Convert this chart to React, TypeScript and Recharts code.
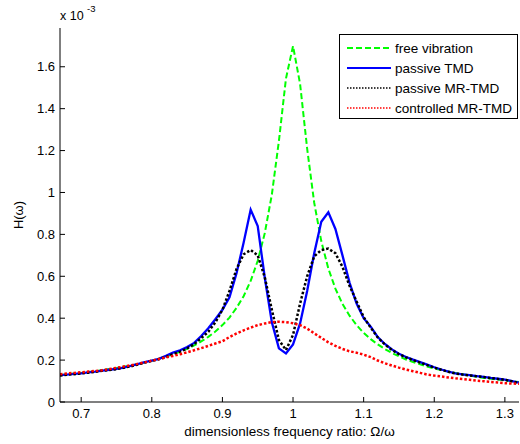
import React from "react";
import { Label, Legend, Line, LineChart, XAxis, YAxis } from "recharts";

// frequency ratio grid (x axis)
const freq = [
  0.67, 0.68, 0.69, 0.7, 0.71, 0.72, 0.73, 0.74, 0.75, 0.76, 0.77, 0.78, 0.79, 0.8, 0.81, 0.82, 0.83, 0.84,
  0.85, 0.86, 0.87, 0.88, 0.89, 0.9, 0.91, 0.92, 0.93, 0.94, 0.95, 0.96, 0.97, 0.98, 0.99, 1.0,
  1.01, 1.02, 1.03, 1.04, 1.05, 1.06, 1.07, 1.08, 1.09, 1.1, 1.11, 1.12, 1.13, 1.14, 1.15, 1.16,
  1.17, 1.18, 1.19, 1.2, 1.21, 1.22, 1.23, 1.24, 1.25, 1.26, 1.27, 1.28, 1.29, 1.3, 1.31, 1.32,
];

// H(w) in units of 1e-3
const freeVibration = [
  0.129, 0.132, 0.136, 0.139, 0.143, 0.147, 0.152, 0.157, 0.162, 0.168, 0.174, 0.181, 0.189, 0.197, 0.207, 0.217, 0.228, 0.24,
  0.254, 0.27, 0.289, 0.311, 0.336, 0.367, 0.403, 0.449, 0.505, 0.578, 0.674, 0.806, 0.99, 1.246, 1.544, 1.699,
  1.518, 1.209, 0.951, 0.768, 0.637, 0.541, 0.468, 0.412, 0.367, 0.33, 0.3, 0.275, 0.253, 0.234, 0.218, 0.203,
  0.191, 0.18, 0.169, 0.16, 0.152, 0.145, 0.138, 0.132, 0.126, 0.12, 0.115, 0.111, 0.107, 0.103, 0.099, 0.095,
];

const passiveTmd = [
  0.128, 0.131, 0.134, 0.137, 0.141, 0.145, 0.15, 0.154, 0.158, 0.164, 0.172, 0.181, 0.19, 0.198, 0.206, 0.22, 0.236, 0.247,
  0.262, 0.282, 0.315, 0.352, 0.395, 0.44, 0.5, 0.615, 0.76, 0.918, 0.84, 0.593, 0.38, 0.256, 0.232, 0.275,
  0.375, 0.53, 0.71, 0.86, 0.905, 0.826, 0.7, 0.57, 0.47, 0.4, 0.36, 0.31, 0.277, 0.251, 0.23, 0.215,
  0.202, 0.19, 0.178, 0.166, 0.155, 0.145, 0.137, 0.132, 0.128, 0.124, 0.12, 0.115, 0.111, 0.107, 0.1, 0.092,
];

const passiveMrTmd = [
  0.127, 0.13, 0.133, 0.136, 0.14, 0.144, 0.149, 0.153, 0.157, 0.163, 0.17, 0.179, 0.188, 0.196, 0.204, 0.215, 0.228, 0.24,
  0.256, 0.276, 0.305, 0.335, 0.38, 0.44, 0.53, 0.635, 0.705, 0.725, 0.7, 0.595, 0.44, 0.296, 0.248, 0.32,
  0.47, 0.6, 0.695, 0.725, 0.732, 0.71, 0.645, 0.555, 0.48, 0.405, 0.355, 0.308, 0.275, 0.249, 0.228, 0.213,
  0.2, 0.188, 0.176, 0.164, 0.154, 0.144, 0.136, 0.131, 0.127, 0.123, 0.119, 0.114, 0.11, 0.106, 0.099, 0.091,
];

const controlledMrTmd = [
  0.133, 0.136, 0.139, 0.142, 0.145, 0.148, 0.152, 0.157, 0.163, 0.169, 0.175, 0.182, 0.189, 0.197, 0.205, 0.213, 0.22, 0.228,
  0.237, 0.247, 0.257, 0.268, 0.279, 0.29, 0.31, 0.327, 0.342, 0.355, 0.367, 0.375, 0.381, 0.383, 0.381, 0.376,
  0.367, 0.35, 0.328, 0.306, 0.285, 0.268, 0.253, 0.242, 0.235, 0.226, 0.214, 0.198, 0.185, 0.174, 0.164, 0.155,
  0.147, 0.139, 0.131, 0.126, 0.122, 0.117, 0.113, 0.11, 0.106, 0.102, 0.099, 0.096, 0.093, 0.09, 0.088, 0.087,
];

const xTicks = [0.7, 0.8, 0.9, 1, 1.1, 1.2, 1.3];
const yTicks = [0, 0.2, 0.4, 0.6, 0.8, 1, 1.2, 1.4, 1.6];

const series = [
  { key: "free", name: "free vibration", color: "#00ff00", dash: "6 3", legendDash: "6 3", width: 2, legendWidth: 2 },
  { key: "ptmd", name: "passive TMD", color: "#0000ff", dash: undefined, legendDash: undefined, width: 2.3, legendWidth: 2 },
  { key: "pmr", name: "passive MR-TMD", color: "#000000", dash: "2.5 2", legendDash: "1.5 1.5", width: 2.5, legendWidth: 1.5 },
  { key: "cmr", name: "controlled MR-TMD", color: "#ff0000", dash: "2.5 2", legendDash: "1.5 1.5", width: 2.5, legendWidth: 1.5 },
];

const data = freq.map((f, i) => ({
  f,
  free: freeVibration[i],
  ptmd: passiveTmd[i],
  pmr: passiveMrTmd[i],
  cmr: controlledMrTmd[i],
}));

const FONT = '"Liberation Sans", Arial, Helvetica, sans-serif';
const fmt = (v: number) => String(Number(v.toFixed(1)));

function BottomTick(props: any) {
  const { x, y, payload } = props;
  return (
    <g>
      <line x1={x} x2={x} y1={y} y2={y - 5} stroke="#000" />
      <text x={x} y={y + 16} textAnchor="middle" fontSize={13} fill="#000" fontFamily={FONT}>
        {fmt(payload.value)}
      </text>
    </g>
  );
}

function TopTick(props: any) {
  const { x, y } = props;
  return <line x1={x} x2={x} y1={y} y2={y + 5} stroke="#000" />;
}

function LeftTick(props: any) {
  const { x, y, payload } = props;
  return (
    <g>
      <line x1={x} x2={x + 5} y1={y} y2={y} stroke="#000" />
      <text x={x - 5} y={y + 4.5} textAnchor="end" fontSize={13} fill="#000" fontFamily={FONT}>
        {fmt(payload.value)}
      </text>
    </g>
  );
}

function RightTick(props: any) {
  const { x, y } = props;
  return <line x1={x} x2={x - 5} y1={y} y2={y} stroke="#000" />;
}

function YLabel(props: any) {
  const vb = props.viewBox;
  const cy = vb.y + vb.height / 2;
  return (
    <g fontFamily={FONT} fill="#000">
      <text x={23} y={cy} transform={`rotate(-90, 23, ${cy})`} textAnchor="middle" fontSize={13}>
        H(ω)
      </text>
      <text x={vb.x + vb.width} y={vb.y - 8} fontSize={12.5}>
        x 10
      </text>
      <text x={vb.x + vb.width + 27} y={vb.y - 16} fontSize={9.5}>
        -3
      </text>
    </g>
  );
}

function LegendBox() {
  return (
    <div
      style={{
        border: "1px solid #000",
        background: "#fff",
        width: 179,
        height: 85,
        boxSizing: "border-box",
        fontFamily: FONT,
        fontSize: 13.5,
        color: "#000",
        paddingTop: 3,
      }}
    >
      {series.map((s) => (
        <div key={s.key} style={{ display: "flex", alignItems: "center", height: 20 }}>
          <svg width={55} height={20} style={{ display: "block" }}>
            <line
              x1={7}
              x2={51}
              y1={10}
              y2={10}
              stroke={s.color}
              strokeWidth={s.legendWidth}
              strokeDasharray={s.legendDash}
            />
          </svg>
          <span>{s.name}</span>
        </div>
      ))}
    </div>
  );
}

export default function App() {
  return (
    <div style={{ position: "absolute", left: 0, top: 0, width: 520, height: 444, background: "#fff" }}>
      <LineChart width={520} height={444} data={data} margin={{ top: 28, right: 1, bottom: 0, left: 0 }}>
        <XAxis
          dataKey="f"
          type="number"
          domain={[0.67, 1.32]}
          ticks={xTicks}
          allowDataOverflow
          height={42}
          tickSize={0}
          tickMargin={0}
          tickLine={false}
          axisLine={{ stroke: "#000" }}
          tick={<BottomTick />}
          interval={0}
        >
          <Label
            value="dimensionless frequency ratio: Ω/ω"
            position="insideBottom"
            offset={8}
            fontSize={13.5}
            fill="#000"
            fontFamily={FONT}
          />
        </XAxis>
        <XAxis
          xAxisId="top"
          dataKey="f"
          type="number"
          orientation="top"
          domain={[0.67, 1.32]}
          ticks={xTicks}
          allowDataOverflow
          height={0}
          tickSize={0}
          tickMargin={0}
          tickLine={false}
          axisLine={{ stroke: "#000" }}
          tick={<TopTick />}
          interval={0}
        >
          <Label
            value="Dynamic Response of SDOF system"
            position="top"
            offset={11}
            fontSize={13.5}
            fill="#000"
            fontFamily={FONT}
          />
        </XAxis>
        <YAxis
          type="number"
          domain={[0, 1.785]}
          ticks={yTicks}
          allowDataOverflow
          width={60}
          tickSize={0}
          tickMargin={0}
          tickLine={false}
          axisLine={{ stroke: "#000" }}
          tick={<LeftTick />}
          interval={0}
        >
          <Label content={<YLabel />} />
        </YAxis>
        <YAxis
          yAxisId="right"
          orientation="right"
          type="number"
          domain={[0, 1.785]}
          ticks={yTicks}
          allowDataOverflow
          width={0}
          tickSize={0}
          tickMargin={0}
          tickLine={false}
          axisLine={{ stroke: "#000" }}
          tick={<RightTick />}
          interval={0}
        />
        <Legend
          layout="horizontal"
          verticalAlign="middle"
          align="center"
          wrapperStyle={{ top: 34, left: 339, width: 179, height: 85 }}
          content={() => <LegendBox />}
        />
        {series.map((s) => (
          <Line
            key={s.key}
            dataKey={s.key}
            name={s.name}
            type="linear"
            stroke={s.color}
            strokeWidth={s.width}
            strokeDasharray={s.dash}
            dot={false}
            activeDot={false}
            isAnimationActive={false}
          />
        ))}
      </LineChart>
    </div>
  );
}
